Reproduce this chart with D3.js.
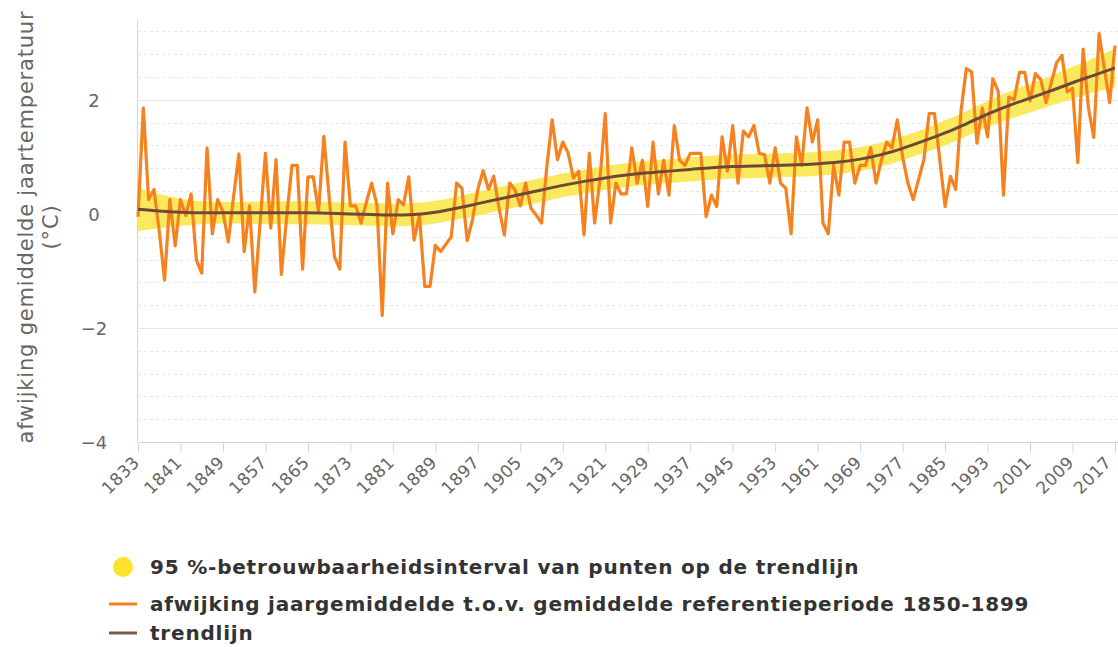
<!DOCTYPE html>
<html><head><meta charset="utf-8">
<script src="https://cdn.jsdelivr.net/npm/d3@7/dist/d3.min.js"></script>
<style>
html,body{margin:0;padding:0;background:#fff;}
svg{display:block;font-family:"DejaVu Sans",Verdana,sans-serif;}
</style></head>
<body><svg id="chart" width="1118" height="647"></svg>
<script>
// ---- data ----
const startYear = 1833;
const anomalies = [
-0.05,1.86,0.25,0.43,-0.3,-1.16,0.25,-0.56,0.25,-0.03,
0.35,-0.81,-1.04,1.16,-0.35,0.25,0.04,-0.49,0.3,1.05,
-0.66,0.14,-1.37,-0.15,1.06,-0.25,0.95,-1.06,-0.05,0.85,
0.85,-0.97,0.65,0.65,0.04,1.36,0.3,-0.75,-0.97,1.26,
0.14,0.14,-0.16,0.2,0.54,0.16,-1.78,0.54,-0.35,0.25,
0.16,0.65,-0.46,-0.02,-1.27,-1.27,-0.55,-0.66,-0.53,-0.4,
0.54,0.45,-0.47,-0.1,0.43,0.76,0.43,0.66,0.1,-0.37,
0.54,0.42,0.14,0.54,0.1,-0.02,-0.16,0.83,1.65,0.95,
1.26,1.07,0.63,0.75,-0.37,1.06,-0.16,0.6,1.76,-0.16,
0.54,0.35,0.35,1.16,0.54,0.94,0.13,1.26,0.35,0.94,
0.33,1.55,0.94,0.85,1.06,1.06,1.06,-0.05,0.33,0.13,
1.35,0.75,1.55,0.54,1.45,1.35,1.55,1.06,1.04,0.54,
1.16,0.54,0.45,-0.35,1.35,0.85,1.86,1.26,1.65,-0.16,
-0.35,0.85,0.33,1.26,1.26,0.54,0.85,0.85,1.16,0.54,
0.94,1.26,1.16,1.65,1.0,0.54,0.25,0.6,0.95,1.76,
1.76,0.95,0.13,0.66,0.43,1.8,2.55,2.49,1.24,1.86,
1.35,2.37,2.15,0.33,2.05,2.0,2.48,2.48,1.98,2.46,
2.36,1.95,2.3,2.65,2.78,2.14,2.2,0.9,2.89,1.86,
1.34,3.16,2.55,1.95,2.95
];
const trendYears = [1833,1837,1841,1845,1849,1853,1857,1861,1865,1869,1873,1877,1881,1885,1889,1893,1897,1901,1905,1909,1913,1917,1921,1925,1929,1933,1937,1941,1945,1949,1953,1957,1961,1965,1969,1973,1977,1981,1985,1989,1993,1997,2001,2005,2009,2013,2017];
const trend = [0.08,0.05,0.03,0.02,0.02,0.02,0.02,0.02,0.02,0.01,0.0,-0.01,-0.02,-0.01,0.03,0.1,0.18,0.26,0.34,0.42,0.5,0.57,0.63,0.68,0.72,0.75,0.78,0.81,0.83,0.84,0.85,0.86,0.88,0.91,0.96,1.04,1.15,1.28,1.42,1.58,1.75,1.9,2.03,2.16,2.3,2.43,2.56];
const bandLow  = [-0.3,-0.25,-0.21,-0.18,-0.17,-0.17,-0.18,-0.18,-0.18,-0.19,-0.2,-0.21,-0.22,-0.21,-0.17,-0.1,-0.03,0.05,0.13,0.21,0.29,0.36,0.42,0.47,0.51,0.54,0.57,0.6,0.62,0.63,0.64,0.65,0.67,0.7,0.75,0.83,0.94,1.07,1.2,1.36,1.52,1.66,1.78,1.9,2.02,2.13,2.22];
const bandHigh = [0.46,0.35,0.27,0.22,0.21,0.21,0.22,0.22,0.22,0.21,0.2,0.19,0.18,0.19,0.23,0.3,0.39,0.47,0.55,0.63,0.71,0.78,0.84,0.89,0.93,0.96,0.99,1.02,1.04,1.05,1.06,1.07,1.09,1.12,1.17,1.25,1.36,1.49,1.64,1.8,1.98,2.14,2.28,2.42,2.58,2.73,2.9];
const xTickYears = [1833,1841,1849,1857,1865,1873,1881,1889,1897,1905,1913,1921,1929,1937,1945,1953,1961,1969,1977,1985,1993,2001,2009,2017];
const yMajorTicks = [-4,-2,0,2];
const yMinorTicks = [-3.6,-3.2,-2.8,-2.4,-1.6,-1.2,-0.8,-0.4,0.4,0.8,1.2,1.6,2.4,2.8,3.2];
const yTitle = ["afwijking gemiddelde jaartemperatuur","(°C)"];
const legendLabels = ["95 %-betrouwbaarheidsinterval van punten op de trendlijn","afwijking jaargemiddelde t.o.v. gemiddelde referentieperiode 1850-1899","trendlijn"];

const colOrange = "#f5821f", colTrend = "#6e4a36", colBand = "#fbe74b", colLegendDot = "#ffe22e";

// ---- scales ----
const svg = d3.select("#chart");
const L = 138, R = 1115, T = 20, B = 442;
const x = d3.scaleLinear().domain([1833, 2017]).range([L, R]);
const y = d3.scaleLinear().domain([-4, 3.4]).range([B, T]);

const series = anomalies.map((v,i)=>({year:startYear+i, v}));

// grid
svg.append("g").selectAll("line").data(yMinorTicks).join("line")
  .attr("x1",L).attr("x2",1118).attr("y1",d=>Math.round(y(d))+0.5).attr("y2",d=>Math.round(y(d))+0.5)
  .attr("stroke","#e6e6e6").attr("stroke-width",1).attr("stroke-dasharray","3,3");
svg.append("g").selectAll("line").data(yMajorTicks.filter(d=>d!==-4)).join("line")
  .attr("x1",L).attr("x2",1118).attr("y1",d=>Math.round(y(d))+0.5).attr("y2",d=>Math.round(y(d))+0.5)
  .attr("stroke","#e6e6e6").attr("stroke-width",1);

// axes lines
svg.append("line").attr("x1",L-0.5).attr("x2",L-0.5).attr("y1",T).attr("y2",B)
  .attr("stroke","#ccd6eb");
const xAxis = d3.axisBottom(x).tickValues(xTickYears).tickFormat(d3.format("d")).tickSize(10).tickSizeOuter(0);
const gx = svg.append("g").attr("transform",`translate(0,${B+0.5})`).call(xAxis);
gx.select(".domain").attr("stroke","#ccd6eb").attr("d",`M${L},0H1118`);
gx.selectAll(".tick line").attr("stroke","#ccd6eb");
gx.selectAll(".tick text").attr("fill","#666").attr("font-size","17px")
  .attr("letter-spacing","0.4px")
  .attr("font-family","DejaVu Sans, sans-serif")
  .attr("text-anchor","end").attr("dy",null).attr("y",0)
  .attr("transform",(d,i,n)=> i===n.length-1 ? "translate(-3,21) rotate(-45)" : "translate(2,21) rotate(-45)");

// y labels
const yAxis = d3.axisLeft(y).tickValues(yMajorTicks).tickFormat(d=>d<0?"\u2212"+Math.abs(d):d).tickSize(0);
const gy = svg.append("g").attr("transform",`translate(${L},0)`).call(yAxis);
gy.select(".domain").remove();
gy.selectAll(".tick text").attr("fill","#666").attr("font-size","18px")
  .attr("font-family","DejaVu Sans, sans-serif")
  .attr("text-anchor","middle").attr("x",-44).attr("dy","0.35em");

// y title
const yt = svg.append("text").attr("transform","translate(0,227) rotate(-90)")
  .attr("text-anchor","middle").attr("fill","#666").attr("font-size","21px").attr("letter-spacing","0.8px");
yt.append("tspan").attr("x",0).attr("y",33).text(yTitle[0]);
yt.append("tspan").attr("x",0).attr("y",58).text(yTitle[1]);

// band
const area = d3.area().x((d,i)=>x(trendYears[i])).y0((d,i)=>y(bandLow[i])).y1((d,i)=>y(bandHigh[i])).curve(d3.curveMonotoneX);
svg.append("path").datum(trend).attr("d",area).attr("fill",colBand).attr("opacity",0.9);

// anomaly line
const line = d3.line().x(d=>x(d.year)).y(d=>y(d.v));
svg.append("path").datum(series).attr("d",line).attr("fill","none")
  .attr("stroke",colOrange).attr("stroke-width",3.2).attr("stroke-linejoin","round");

// trend line
const tline = d3.line().x((d,i)=>x(trendYears[i])).y(d=>y(d)).curve(d3.curveMonotoneX);
svg.append("path").datum(trend).attr("d",tline).attr("fill","none")
  .attr("stroke",colTrend).attr("stroke-width",3);

// legend
const lg = svg.append("g").attr("font-size","20px").attr("font-weight","bold").attr("fill","#333").attr("letter-spacing","0.8px");
lg.append("circle").attr("cx",123).attr("cy",567).attr("r",10).attr("fill",colLegendDot);
lg.append("text").attr("x",150).attr("y",574).text(legendLabels[0]);
lg.append("line").attr("x1",109).attr("x2",137).attr("y1",604).attr("y2",604).attr("stroke",colOrange).attr("stroke-width",3);
lg.append("text").attr("x",150).attr("y",611).text(legendLabels[1]);
lg.append("line").attr("x1",109).attr("x2",137).attr("y1",633).attr("y2",633).attr("stroke","#7a5a48").attr("stroke-width",3);
lg.append("text").attr("x",150).attr("y",640).text(legendLabels[2]);
</script>
</body></html>
